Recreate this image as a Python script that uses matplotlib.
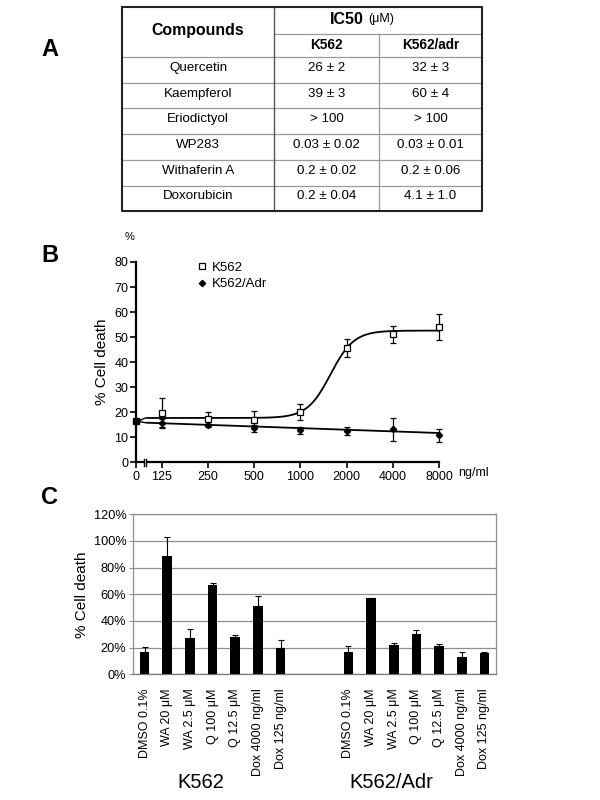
import numpy as np
import matplotlib
matplotlib.use("Agg")
import matplotlib.pyplot as plt
from matplotlib.lines import Line2D

plt.rcParams['font.family'] = ['Liberation Sans', 'DejaVu Sans']

# ---------------- Data ----------------
# Panel A table
table_compounds = ["Quercetin", "Kaempferol", "Eriodictyol", "WP283", "Withaferin A", "Doxorubicin"]
table_k562 = ["26 ± 2", "39 ± 3", "> 100", "0.03 ± 0.02", "0.2 ± 0.02", "0.2 ± 0.04"]
table_k562adr = ["32 ± 3", "60 ± 4", "> 100", "0.03 ± 0.01", "0.2 ± 0.06", "4.1 ± 1.0"]

# Panel B dose response
conc = [125, 250, 500, 1000, 2000, 4000, 8000]          # ng/ml
conc_ticks = [0, 125, 250, 500, 1000, 2000, 4000, 8000]
k562_b = [19.5, 17.2, 16.9, 20.0, 45.6, 51.2, 54.0]
k562_b_err = [6.0, 2.8, 3.4, 3.3, 3.6, 3.4, 5.1]
adr_b = [15.6, 14.9, 13.5, 12.8, 12.4, 13.2, 10.8]
adr_b_err = [1.7, 1.0, 1.3, 1.3, 1.5, 4.5, 2.5]
zero_value = 16.5
# fitted curves
k562_fit = dict(bottom=17.7, top=52.6, ec50=1570.0, hill=5.7)
adr_fit = dict(at125=15.6, per_doubling=-0.65)

# Panel C bars
c_categories = ["DMSO 0.1%", "WA 20 μM", "WA 2.5 μM", "Q 100 μM", "Q 12.5 μM",
                "Dox 4000 ng/ml", "Dox 125 ng/ml"]
k562_c = [17, 89, 27, 67, 28, 51, 20]
k562_c_err = [3.5, 14, 7, 1.5, 1.5, 8, 6]
adr_c = [17, 57, 22, 30, 21, 13, 16]
adr_c_err = [4.5, 0.5, 1.5, 3, 1.5, 3.5, 0.8]
groups = ["K562", "K562/Adr"]

W, H = 600, 800
fig = plt.figure(figsize=(W / 100, H / 100), dpi=100)


def rect(x0, y0, x1, y1):
    return [x0 / W, 1 - y1 / H, (x1 - x0) / W, (y1 - y0) / H]


# Overlay axes in pixel coordinates
ov = fig.add_axes([0, 0, 1, 1], zorder=-1)
ov.set_xlim(0, W)
ov.set_ylim(H, 0)
ov.axis('off')

# Panel letters
for letter, (lx, ly) in zip("ABC", [(50, 49), (50, 256), (50, 498)]):
    ov.text(lx, ly, letter, fontsize=17, fontweight='bold', ha='center', va='center')

# ---------------- Panel A: table ----------------
tx0, tx1 = 122, 482
cx1, cx2 = 274, 379
ty_top, ty_sub, ty_head = 7, 34, 57
row_h = 25.7
n = len(table_compounds)
ty_bot = ty_head + n * row_h
grey = '#9a9a9a'
for i in range(1, n):
    yy = ty_head + i * row_h
    ov.plot([tx0, tx1], [yy, yy], color=grey, lw=0.9)
ov.plot([tx0, tx1], [ty_head, ty_head], color=grey, lw=0.9)
ov.plot([cx1, tx1], [ty_sub, ty_sub], color=grey, lw=0.9)
ov.plot([cx1, cx1], [ty_top, ty_bot], color='#555555', lw=1.0)
ov.plot([cx2, cx2], [ty_sub, ty_bot], color=grey, lw=0.9)
ov.plot([tx0, tx1, tx1, tx0, tx0], [ty_top, ty_top, ty_bot, ty_bot, ty_top], color='#222222', lw=1.5)

colc = [(tx0 + cx1) / 2, (cx1 + cx2) / 2, (cx2 + tx1) / 2]
ov.text(colc[0], 31, "Compounds", fontsize=11.4, fontweight='bold', ha='center', va='center')
ov.text((cx1 + tx1) / 2 - 14, 19, "IC50", fontsize=11.5, fontweight='bold', ha='right', va='center')
ov.text((cx1 + tx1) / 2 - 10, 19, "(μM)", fontsize=9, ha='left', va='center')
ov.text(colc[1], 45, "K562", fontsize=9.8, fontweight='bold', ha='center', va='center')
ov.text(colc[2], 45, "K562/adr", fontsize=9.8, fontweight='bold', ha='center', va='center')
for i in range(n):
    yc = ty_head + (i + 0.5) * row_h - 2
    ov.text(colc[0], yc, table_compounds[i], fontsize=9.6, ha='center', va='center')
    ov.text(colc[1], yc, table_k562[i], fontsize=9.6, ha='center', va='center')
    ov.text(colc[2], yc, table_k562adr[i], fontsize=9.6, ha='center', va='center')

# ---------------- Panel B ----------------
ZERO_POS = -0.563


def pos(c):
    c = np.asarray(c, dtype=float)
    return np.where(c > 0, np.log2(np.where(c > 0, c, 1) / 125.0), ZERO_POS)


axb = fig.add_axes(rect(136, 262, 439, 462.3))
axb.set_xlim(ZERO_POS, 6)
axb.set_ylim(0, 80)
for s in ['top', 'right', 'bottom']:
    axb.spines[s].set_visible(False)
axb.spines['left'].set_linewidth(1.6)
axb.set_yticks(range(0, 81, 10))
axb.set_xticks(pos(conc_ticks))
axb.set_xticklabels([str(c) for c in conc_ticks])
axb.tick_params(axis='both', direction='out', length=4, width=1.2, labelsize=9, pad=1.5)
axb.tick_params(axis='x', pad=2)
axb.set_ylabel("% Cell death", fontsize=11, labelpad=4)

# broken x-axis line
brk_l, brk_r = -0.42, -0.33
axb.plot([ZERO_POS, brk_l], [0, 0], color='k', lw=1.6, clip_on=False, zorder=3)
axb.plot([brk_r, 6], [0, 0], color='k', lw=1.6, clip_on=False, zorder=3)
for bx in [brk_l + 0.02, brk_r - 0.02]:
    axb.plot([bx, bx], [-1.3, 1.3], color='k', lw=1.0, clip_on=False, zorder=3)

# fitted curves
p_curve = np.linspace(-0.325, 6, 300)
c_curve = 125 * 2 ** p_curve
y_k = k562_fit['bottom'] + (k562_fit['top'] - k562_fit['bottom']) / (
    1 + 10 ** ((np.log10(k562_fit['ec50']) - np.log10(c_curve)) * k562_fit['hill']))
y_a = adr_fit['at125'] + adr_fit['per_doubling'] * p_curve
axb.plot(p_curve, y_k, color='k', lw=1.3, clip_on=False)
axb.plot(p_curve, y_a, color='k', lw=1.3, clip_on=False)
# small connectors toward zero point
axb.plot([ZERO_POS + 0.09, -0.36], [zero_value + 0.3, y_k[0]], color='k', lw=1.0)
axb.plot([ZERO_POS + 0.09, -0.36], [zero_value - 0.3, y_a[0]], color='k', lw=1.0)

xb = pos(conc)
eb1 = axb.errorbar(xb, k562_b, yerr=k562_b_err, fmt='s', mfc='white', mec='k', mew=0.9, ms=4,
                   ecolor='k', elinewidth=0.9, capsize=2.5, capthick=0.9, zorder=4)
eb2 = axb.errorbar(xb, adr_b, yerr=adr_b_err, fmt='D', mfc='k', mec='k', ms=3.2,
                   ecolor='k', elinewidth=0.9, capsize=2.5, capthick=0.9, zorder=4)
for eb in (eb1, eb2):
    for art in eb.get_children():
        art.set_clip_on(False)
axb.plot(pos([0]), [zero_value], 's', color='k', ms=4, clip_on=False, zorder=5)

handles = [Line2D([], [], ls='none', marker='s', mfc='white', mec='k', mew=0.9, ms=4),
           Line2D([], [], ls='none', marker='D', mfc='k', mec='k', ms=3.2)]
axb.legend(handles, groups, loc='upper left', bbox_to_anchor=(0.18, 1.03), frameon=False,
           fontsize=9.5, handletextpad=0.2, labelspacing=0.35, handlelength=1.0, borderaxespad=0)
ov.text(130, 237, "%", fontsize=8, ha='center', va='center')
ov.text(458, 473, "ng/ml", fontsize=9, ha='left', va='center')

# ---------------- Panel C ----------------
axc = fig.add_axes(rect(133.3, 514.3, 495.7, 674.3))
nk = len(c_categories)
x_k = np.arange(nk)
x_a = np.arange(nk) + nk + 2
axc.set_xlim(-0.5, 2 * nk + 2 - 0.5)
axc.set_ylim(0, 1.2)
bw = 0.43
axc.bar(x_k, np.array(k562_c) / 100, width=bw, color='k', zorder=3,
        yerr=[np.zeros(nk), np.array(k562_c_err) / 100], ecolor='k',
        error_kw=dict(elinewidth=0.8, capsize=2, capthick=0.8))
axc.bar(x_a, np.array(adr_c) / 100, width=bw, color='k', zorder=3,
        yerr=[np.zeros(nk), np.array(adr_c_err) / 100], ecolor='k',
        error_kw=dict(elinewidth=0.8, capsize=2, capthick=0.8))
axc.set_yticks(np.arange(0, 1.21, 0.2))
axc.set_yticklabels([f"{int(round(v * 100))}%" for v in np.arange(0, 1.21, 0.2)])
axc.yaxis.grid(True, color='#8f8f8f', lw=0.9)
axc.set_axisbelow(True)
for s in axc.spines.values():
    s.set_color('#8f8f8f')
    s.set_linewidth(0.9)
axc.spines['bottom'].set_color('#777777')
axc.set_xticks(np.concatenate([x_k, x_a]))
axc.set_xticklabels(c_categories + c_categories, rotation=90, fontsize=9, va='top', ha='center')
axc.tick_params(axis='x', length=0, pad=10)
axc.tick_params(axis='y', direction='out', length=3, color='#8f8f8f', labelsize=9.2, pad=2)
axc.set_ylabel("% Cell death", fontsize=11, labelpad=3)

ov.text(201, 783, groups[0], fontsize=14.5, ha='center', va='center')
ov.text(391, 783, groups[1], fontsize=14.5, ha='center', va='center')

fig.savefig("out.png", dpi=100)
